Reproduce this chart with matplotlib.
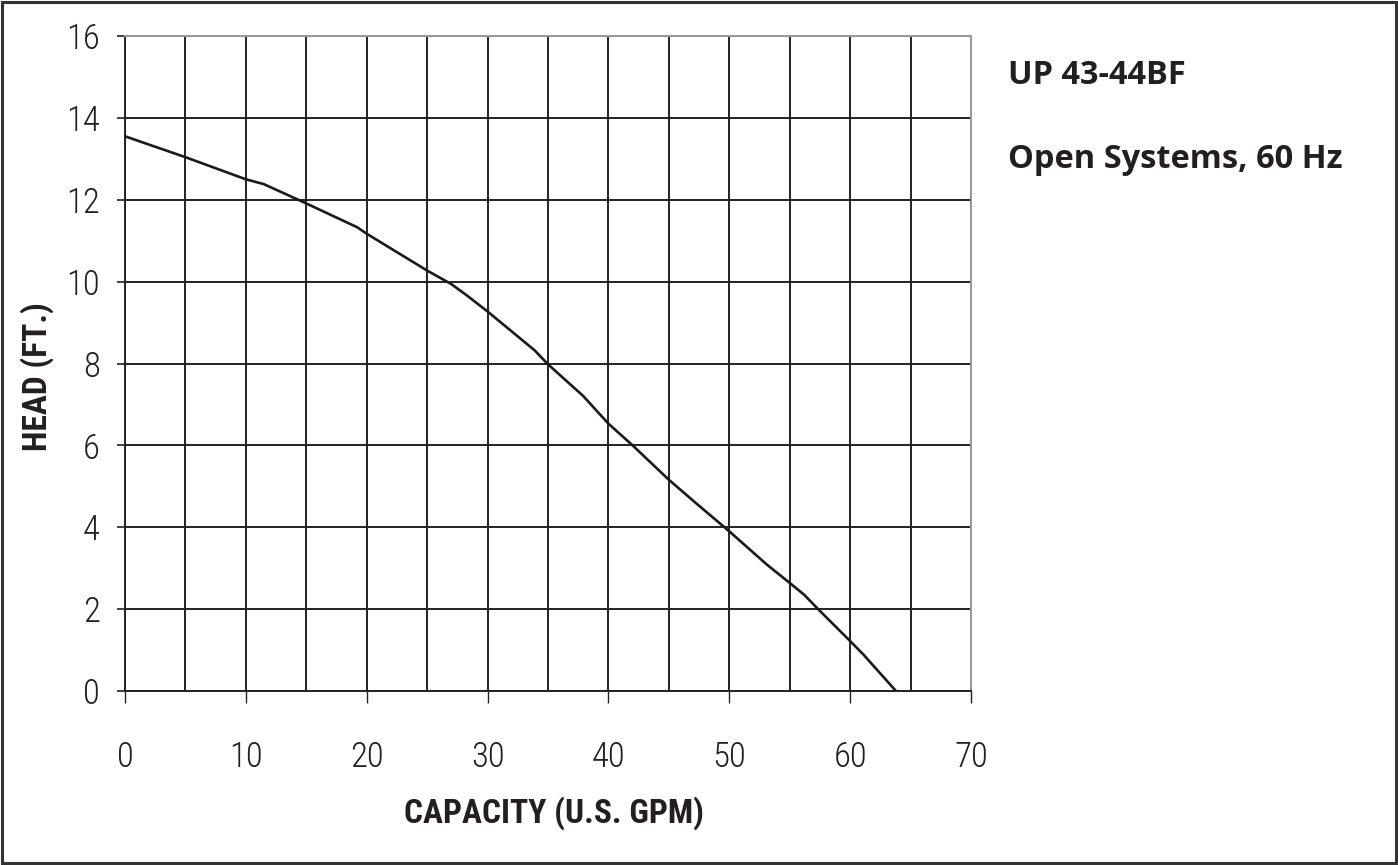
import matplotlib
matplotlib.use('Agg')
from matplotlib import pyplot as plt
from matplotlib import font_manager
from matplotlib.patches import Rectangle

# pump curve
capacity = [0, 5, 10, 11.5, 15, 19.2, 20, 25, 27, 28.3, 30, 33.9, 35, 37.9, 40, 42,
            45, 47.2, 50, 53.1, 55, 56.2, 57.35, 60, 61.1, 63.7]
head = [13.55, 13.04, 12.5, 12.38, 11.91, 11.33, 11.17, 10.27, 9.94, 9.66, 9.27, 8.32,
        7.98, 7.21, 6.53, 6.0, 5.16, 4.6, 3.9, 3.09, 2.64, 2.35, 2.0, 1.22, 0.89, 0.03]

x_ticks = list(range(0, 71, 10))
x_grid = list(range(5, 70, 10))
y_ticks = list(range(0, 17, 2))

# look for a narrow sans face, the chart uses a condensed Helvetica/Arial look
installed = {f.name for f in font_manager.fontManager.ttflist}
narrow_name = None
for cand in ['Liberation Sans Narrow', 'Arial Narrow', 'Roboto Condensed',
             'Open Sans Condensed', 'DejaVu Sans Condensed']:
    if cand in installed:
        narrow_name = cand
        break
narrow = [narrow_name, 'Liberation Sans', 'DejaVu Sans'] if narrow_name else ['Liberation Sans', 'DejaVu Sans']
tick_size = 25 if narrow_name else 22
label_size = 24 if narrow_name else 21

fig = plt.figure(figsize=(13.98, 8.65), dpi=100)
ax = fig.add_axes([125/1398, 1-691/865, (971-125)/1398, (691-36)/865])

ax.plot(capacity, head, color='#1a1a1a', lw=1.9, zorder=3)

ax.set_xlim(0, 70)
ax.set_ylim(0, 16)
ax.set_xticks(x_ticks)
ax.set_xticks(x_grid, minor=True)
ax.set_yticks(y_ticks)
ax.set_xticklabels([str(v) for v in x_ticks], family=narrow, fontsize=tick_size,
                   fontweight='light', color='#231f20')
ax.set_yticklabels([str(v) for v in y_ticks], family=narrow, fontsize=tick_size,
                   fontweight='light', color='#231f20')

ax.grid(which='both', axis='x', color='#222222', lw=1.4)
ax.grid(which='major', axis='y', color='#222222', lw=1.4)
ax.set_axisbelow(True)

ax.tick_params(axis='x', which='major', direction='out', length=8.5, width=1.0,
               color='#222222', pad=27)
ax.tick_params(axis='x', which='minor', length=0)
ax.tick_params(axis='y', which='major', direction='out', length=6, width=1.2,
               color='#222222', pad=12)

for side in ['left', 'bottom']:
    ax.spines[side].set_color('#222222')
    ax.spines[side].set_linewidth(1.4)
for side in ['top', 'right']:
    ax.spines[side].set_color('#999999')
    ax.spines[side].set_linewidth(1.4)

fig.text(37/1398, 1-377/865, 'HEAD (FT.)', rotation=90, ha='center', va='center',
         family=narrow, fontsize=label_size, fontweight='bold', color='#231f20')
fig.text(554/1398, 1-813/865, 'CAPACITY (U.S. GPM)', ha='center', va='center',
         family=narrow, fontsize=label_size, fontweight='bold', color='#231f20')

fig.text(1008/1398, 1-75/865, 'UP 43-44BF', ha='left', va='center',
         family=['Open Sans', 'DejaVu Sans'], fontsize=23.5, fontweight='bold', color='#231f20')
fig.text(1008/1398, 1-160/865, 'Open Systems, 60 Hz', ha='left', va='center',
         family=['Open Sans', 'DejaVu Sans'], fontsize=23.5, fontweight='bold', color='#231f20')

# outer frame around the whole picture
fig.patches.append(Rectangle((2/1398, 2/865), 1-4/1398, 1-4/865, transform=fig.transFigure,
                             fill=False, edgecolor='#333333', lw=2.2))

fig.savefig('out.png', dpi=100)
